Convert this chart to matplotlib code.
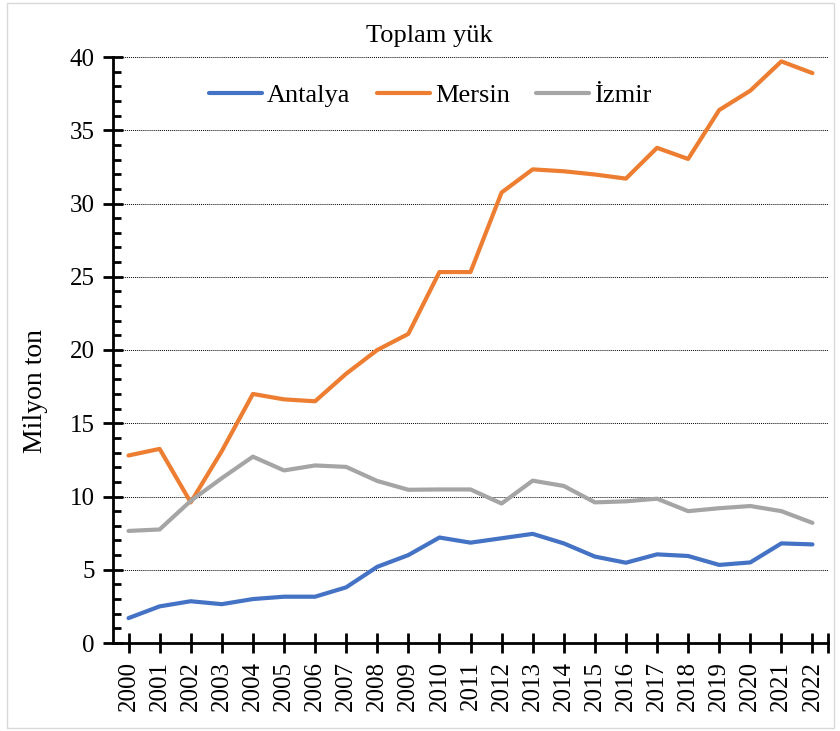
import matplotlib.pyplot as plt
from matplotlib.ticker import MultipleLocator, FixedLocator
from matplotlib.patches import Rectangle

years = [str(y) for y in range(2000, 2023)]
antalya = [1.7, 2.5, 2.85, 2.65, 3.0, 3.16, 3.16, 3.8, 5.2, 6.0, 7.2, 6.85, 7.15,
           7.45, 6.8, 5.9, 5.48, 6.05, 5.94, 5.33, 5.5, 6.8, 6.73]
mersin = [12.8, 13.25, 9.6, 13.1, 17.0, 16.63, 16.5, 18.38, 20.0, 21.1, 25.32, 25.32, 30.75,
          32.33, 32.2, 31.98, 31.7, 33.8, 33.04, 36.38, 37.7, 39.7, 38.9]
izmir = [7.65, 7.75, 9.7, 11.25, 12.72, 11.78, 12.12, 12.02, 11.06, 10.46, 10.48, 10.48, 9.52,
         11.08, 10.72, 9.6, 9.67, 9.85, 9.0, 9.2, 9.35, 9.0, 8.2]

series = [("Antalya", antalya, "#4472C4"),
          ("Mersin", mersin, "#ED7D31"),
          ("\u0130zmir", izmir, "#A5A5A5")]

plt.rcParams['font.family'] = ['Liberation Serif', 'DejaVu Serif']

fig = plt.figure(figsize=(8.4, 7.31), dpi=100)
ax = fig.add_axes([113 / 840, 1 - 643 / 731, 715 / 840, 586 / 731])

x = list(range(len(years)))
for name, vals, color in series:
    ax.plot(x, vals, color=color, lw=3, label=name, solid_capstyle='round', zorder=3)

ax.set_xlim(-0.5, len(years) - 0.5)
ax.set_ylim(0, 40)
ax.yaxis.set_major_locator(MultipleLocator(5))
ax.yaxis.set_minor_locator(MultipleLocator(1))
ax.set_xticks(x)
ax.set_xticklabels(years, rotation=90, fontsize=18)
ax.xaxis.set_minor_locator(FixedLocator([len(years) - 0.5]))
ax.tick_params(axis='y', labelsize=18)

ax.tick_params(axis='both', which='major', direction='inout', length=14, width=2, color='black')
ax.tick_params(axis='y', which='minor', direction='in', length=6, width=2)
ax.tick_params(axis='x', which='minor', direction='inout', length=14, width=2)
ax.tick_params(axis='y', which='major', pad=6)
ax.tick_params(axis='x', which='major', pad=6)

ax.grid(axis='y', which='major', color='black', linestyle=(0, (1, 1)), linewidth=0.7)
ax.set_axisbelow(True)
for side in ['top', 'right']:
    ax.spines[side].set_visible(False)
for side in ['left', 'bottom']:
    ax.spines[side].set_linewidth(2)

ax.legend(loc='upper center', bbox_to_anchor=(0.444, 0.995), ncol=3, frameon=False,
          fontsize=19, handlelength=2.0, handletextpad=0.2, columnspacing=1.0)

fig.text(429 / 840, 1 - 36 / 731, "Toplam y\u00fck", ha='center', va='center', fontsize=19)
fig.text(35 / 840, 1 - 391 / 731, "Milyon ton", ha='center', va='center', rotation=90, fontsize=20)

fig.patches.append(Rectangle((7 / 840, 3 / 731), 827 / 840, 725 / 731, transform=fig.transFigure,
                             fill=False, edgecolor='#D9D9D9', linewidth=1))

fig.savefig("out.png", dpi=100)
